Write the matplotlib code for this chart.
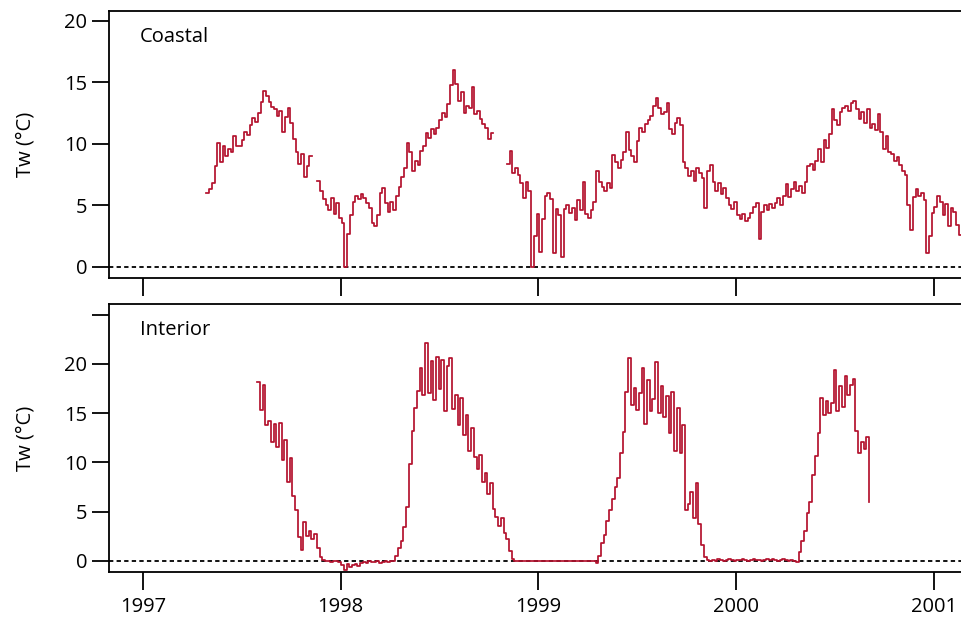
import numpy as np
import pandas as pd
import matplotlib
matplotlib.use("Agg")
import matplotlib.pyplot as plt

nan = np.nan

# Water temperature (°C), one reading every 5 days
coastal_start = "1997-04-28"
coastal_tw = [
    6.0, 6.3, 6.8, 8.2, 10.1, 8.5, 9.8, 9.0, 9.6, 9.3,
    10.6, 9.8, 9.8, 10.3, 11.0, 10.7, 11.5, 12.1, 11.8, 12.5,
    13.4, 14.3, 13.9, 13.4, 13.0, 12.8, 12.3, 12.7, 11.0, 12.2,
    12.9, 11.7, 10.4, 9.3, 8.4, 9.2, 7.3, 8.2, 9.0, nan,
    nan, 7.0, 6.2, 5.5, 5.0, 4.6, 5.6, 4.3, 5.2, 4.0,
    3.6, 0.0, 2.7, 4.2, 5.3, 5.8, 5.5, 5.9, 5.6, 5.2,
    4.8, 3.6, 3.3, 4.2, 6.0, 6.4, 5.2, 4.5, 5.3, 4.6,
    5.8, 6.5, 7.3, 8.0, 10.1, 9.3, 7.8, 8.6, 8.3, 9.4,
    9.8, 10.9, 10.5, 11.2, 10.8, 11.3, 11.9, 12.5, 12.2, 13.2,
    14.8, 16.0, 14.9, 13.5, 14.2, 12.5, 13.1, 12.9, 14.6, 12.4,
    12.7, 12.0, 11.6, 11.3, 10.4, 10.9, nan, nan, nan, nan,
    nan, 8.4, 9.4, 7.6, 8.0, 7.5, 6.8, 5.6, 6.9, 6.2,
    0.0, 2.5, 4.3, 1.2, 3.9, 5.8, 6.0, 5.5, 1.1, 4.7,
    4.2, 0.8, 4.7, 5.0, 4.4, 4.8, 3.8, 5.4, 4.6, 6.9,
    4.3, 4.0, 4.6, 5.3, 7.8, 6.9, 6.5, 6.2, 6.8, 6.4,
    9.1, 8.5, 8.0, 8.7, 9.3, 11.0, 9.5, 9.0, 8.5, 10.2,
    11.3, 11.0, 11.6, 11.9, 12.3, 13.1, 13.7, 12.9, 12.4, 12.6,
    13.3, 11.2, 10.8, 11.7, 12.1, 11.5, 8.5, 8.0, 7.4, 7.8,
    7.0, 8.0, 7.6, 7.2, 4.8, 7.8, 8.3, 6.9, 6.2, 6.8,
    5.9, 6.4, 5.6, 5.0, 4.7, 5.3, 4.2, 3.9, 4.3, 3.7,
    4.0, 4.4, 4.9, 5.2, 2.3, 4.5, 5.0, 4.6, 5.1, 4.8,
    5.2, 5.6, 5.0, 5.8, 6.7, 5.7, 6.3, 6.9, 6.2, 6.6,
    6.0, 6.9, 8.2, 8.4, 7.9, 8.6, 9.6, 8.5, 10.3, 9.7,
    10.8, 12.8, 11.9, 11.5, 12.6, 12.9, 13.1, 12.7, 13.3, 13.5,
    12.8, 12.0, 12.6, 11.7, 12.8, 11.3, 11.6, 11.1, 12.4, 11.0,
    9.6, 10.6, 9.3, 9.2, 8.6, 8.9, 8.3, 7.8, 7.5, 5.0,
    3.0, 5.7, 6.3, 5.8, 6.0, 5.4, 1.1, 2.5, 4.4, 4.9,
    5.8, 5.3, 4.2, 5.1, 3.3, 4.8, 4.5, 3.4, 2.6, 1.8, 1.5,
]

interior_start = "1997-07-31"
interior_tw = [
    18.2, 15.3, 17.9, 13.8, 14.2, 12.1, 13.9, 11.6, 14.0, 10.2,
    12.3, 8.0, 10.4, 6.6, 5.2, 2.4, 1.1, 3.9, 2.5, 3.0,
    2.2, 2.7, 1.3, 0.4, 0.1, 0.0, 0.0, -0.1, 0.0, 0.0,
    -0.1, -0.4, -0.9, -0.3, -0.6, -0.4, -0.3, -0.5, -0.2, -0.1,
    -0.2, 0.0, -0.1, -0.1, 0.0, -0.2, -0.1, 0.0, -0.1, 0.0,
    0.0, 0.5, 1.3, 2.0, 3.4, 5.5, 9.8, 13.2, 15.5, 17.3,
    19.6, 16.8, 22.1, 17.0, 20.3, 16.3, 20.7, 17.5, 20.4, 15.2,
    19.8, 20.6, 15.4, 16.8, 13.8, 16.5, 12.8, 14.8, 11.2, 13.5,
    10.5, 9.3, 10.7, 8.0, 8.9, 6.8, 7.9, 5.3, 4.4, 3.5,
    4.3, 2.8, 2.2, 1.0, 0.2, 0.0, 0.0, 0.0, 0.0, 0.0,
    0.0, 0.0, 0.0, 0.0, 0.0, 0.0, 0.0, 0.0, 0.0, 0.0,
    0.0, 0.0, 0.0, 0.0, 0.0, 0.0, 0.0, 0.0, 0.0, 0.0,
    0.0, 0.0, 0.0, 0.0, 0.0, -0.2, 0.5, 1.8, 2.6, 4.0,
    5.2, 6.3, 7.5, 8.4, 11.0, 13.1, 17.2, 20.6, 15.8, 17.6,
    15.3, 17.1, 19.6, 13.9, 18.4, 15.2, 16.4, 20.2, 15.0, 17.8,
    14.6, 16.7, 13.0, 17.2, 11.2, 15.5, 11.0, 13.8, 5.2, 5.8,
    7.0, 4.3, 7.9, 3.7, 1.6, 0.4, 0.1, 0.0, 0.1, 0.0,
    0.2, 0.1, 0.0, 0.1, 0.2, 0.1, 0.0, 0.1, 0.1, 0.2,
    0.1, 0.0, 0.1, 0.2, 0.1, 0.1, 0.0, 0.1, 0.2, 0.1,
    0.2, 0.1, 0.0, 0.1, 0.2, 0.1, 0.0, 0.1, 0.0, -0.1,
    0.9, 2.0, 3.0, 4.8, 6.0, 8.7, 10.6, 13.0, 16.5, 14.8,
    16.2, 15.0, 16.0, 19.4, 15.2, 17.8, 15.6, 18.8, 16.8, 17.9,
    18.5, 13.2, 11.0, 12.1, 11.4, 12.6, 6.0,
]

year_ticks = [1997, 1998, 1999, 2000, 2001]
coastal_yticks = [0, 5, 10, 15, 20]
interior_yticks = [0, 5, 10, 15, 20, 25]
interior_ylabels = ["0", "5", "10", "15", "20", ""]

panel_names = ["Coastal", "Interior"]

LINE = "#b3122e"
plt.rcParams["font.family"] = ["Open Sans", "DejaVu Sans"]
plt.rcParams["font.size"] = 14.5

fig = plt.figure(figsize=(9.61, 6.2), dpi=100)
ax_top = fig.add_axes([0.1134, 0.5516, 0.8866, 0.4307])
ax_bot = fig.add_axes([0.1134, 0.0774, 0.8866, 0.4323])

coastal_dates = pd.date_range(coastal_start, periods=len(coastal_tw), freq="5D")
interior_dates = pd.date_range(interior_start, periods=len(interior_tw), freq="5D")

xlim = (pd.Timestamp("1996-10-30"), pd.Timestamp("2001-02-20"))
tick_dates = [pd.Timestamp(f"{y}-01-01") for y in year_ticks]

panels = [
    (ax_top, coastal_dates, coastal_tw, (-0.9, 20.8), coastal_yticks,
     [str(t) for t in coastal_yticks]),
    (ax_bot, interior_dates, interior_tw, (-1.15, 26.1), interior_yticks,
     interior_ylabels),
]

for (ax, dates, vals, ylim, yt, ylab), name in zip(panels, panel_names):
    ax.axhline(0, color="black", lw=1.3, ls=(0, (2.4, 1.8)), zorder=1)
    ax.plot(dates, vals, color=LINE, lw=1.25, drawstyle="steps-post", zorder=2)
    ax.set_xlim(*xlim)
    ax.set_ylim(*ylim)
    ax.set_yticks(yt)
    ax.set_yticklabels(ylab)
    ax.set_xticks(tick_dates)
    ax.set_xticklabels([str(y) for y in year_ticks])
    ax.tick_params(axis="y", direction="out", length=12.5, width=1.3, pad=3)
    ax.tick_params(axis="x", direction="out", length=13, width=1.3, pad=5)
    for side in ("left", "top", "bottom"):
        ax.spines[side].set_linewidth(1.3)
    ax.spines["right"].set_visible(False)
    ax.set_ylabel("Tw (°C)")
    ax.yaxis.set_label_coords(-0.086, 0.5)
    ax.text(0.036, 0.94, name, transform=ax.transAxes, ha="left", va="top",
            fontsize=14.5)

ax_top.tick_params(axis="x", labelbottom=False)

fig.savefig("out.png", dpi=100)
